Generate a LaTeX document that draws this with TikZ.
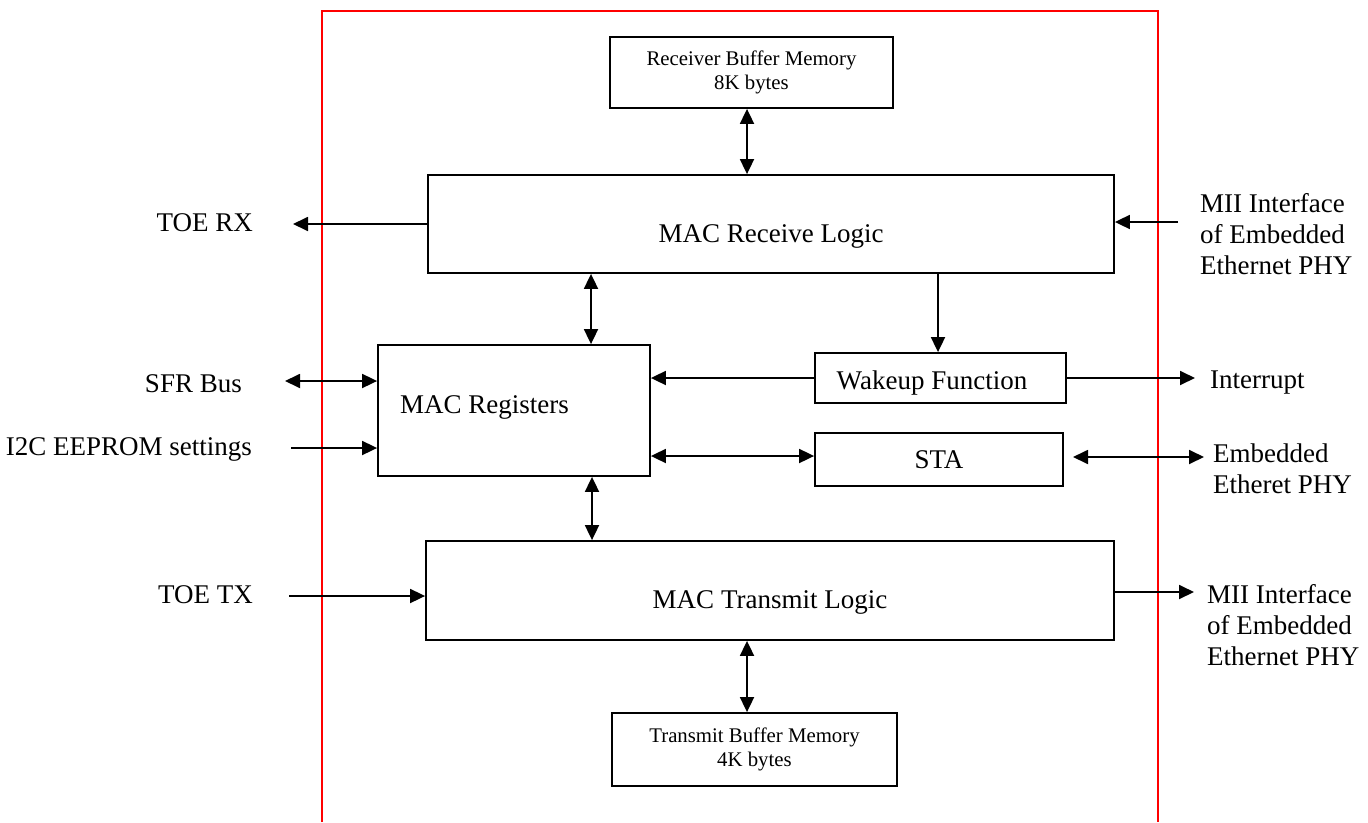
\documentclass[tikz,border=0pt]{standalone}
\usepackage{fontspec}
\setmainfont{Liberation Serif}
\usetikzlibrary{arrows.meta}
\begin{document}
\begin{tikzpicture}[x=1pt,y=-1pt,
  box/.style={draw, line width=1.8pt, inner sep=0pt, rectangle},
  big/.style={font=\fontsize{27}{31}\selectfont, inner sep=0pt},
  small/.style={font=\fontsize{20.8}{24.5}\selectfont, align=center},
  conn/.style={line width=1.8pt, -{Triangle[length=15pt,width=14pt]}},
  bconn/.style={line width=1.8pt, {Triangle[length=15pt,width=14pt]}-{Triangle[length=15pt,width=14pt]}},
]
\useasboundingbox (0,0) rectangle (1368,822);
\fill[white] (0,0) rectangle (1368,822);
\draw[red, line width=1.8pt] (322,822) -- (322,11) -- (1158,11) -- (1158,822);

% boxes
\node[box, small, minimum width=283pt, minimum height=71pt] (rbm) at (751.5,72.5) {Receiver Buffer Memory\\8K bytes};
\node[box, minimum width=686pt, minimum height=98pt] (mrl) at (771,224) {};
\node[big, anchor=base] (mrltxt) at (771,242) {MAC Receive Logic};
\node[box, minimum width=272pt, minimum height=131pt] (macreg) at (514,410.5) {};
\node[big, anchor=base west] (macregtxt) at (400,413) {MAC Registers};
\node[box, minimum width=251pt, minimum height=50pt] (wake) at (940.5,378) {};
\node[big, anchor=base] (waketxt) at (932,389) {Wakeup Function};
\node[box, minimum width=248pt, minimum height=53pt] (sta) at (939,459.5) {};
\node[big, anchor=base] (statxt) at (939,468) {STA};
\node[box, minimum width=688pt, minimum height=99pt] (mtl) at (770,590.5) {};
\node[big, anchor=base] (mtltxt) at (770,608) {MAC Transmit Logic};
\node[box, small, minimum width=285pt, minimum height=73pt] (tbm) at (754.5,749.5) {Transmit Buffer Memory\\4K bytes};

% outside labels
\node[big, anchor=base east] (toerx) at (253,231) {TOE RX};
\node[big, anchor=base east] (sfr) at (242,392) {SFR Bus};
\node[big, anchor=base east] (i2c) at (252,455) {I2C EEPROM settings};
\node[big, anchor=base east] (toetx) at (253,603) {TOE TX};
\node[big, anchor=north west, align=left] (miiin) at (1200,193.6) {MII Interface\\of Embedded\\Ethernet PHY};
\node[big, anchor=base west] (intr) at (1210,388) {Interrupt};
\node[big, anchor=north west, align=left] (phy) at (1213,443.6) {Embedded\\Etheret PHY};
\node[big, anchor=north west, align=left] (miiout) at (1207,584.6) {MII Interface\\of Embedded\\Ethernet PHY};

% connector ends
\coordinate (xa) at (747,0);
\coordinate (xb) at (591,0);
\coordinate (xc) at (938,0);
\coordinate (xd) at (592,0);
\coordinate (rxend) at (293,224);
\coordinate (miiinstart) at (1178,222);
\coordinate (intrend) at (1195,378);
\coordinate (ysta) at (0,456);
\coordinate (staleft) at (1073,457);
\coordinate (phyend) at (1204,457);
\coordinate (sfrend) at (285,381);
\coordinate (i2cstart) at (291,448);
\coordinate (txstart) at (289,596);
\coordinate (miioutend) at (1194,592);

% connectors
\draw[bconn] (rbm.south -| xa) -- (mrl.north -| xa);
\draw[conn] (mrl.west |- rxend) -- (rxend);
\draw[conn] (miiinstart) -- (mrl.east |- miiinstart);
\draw[bconn] (mrl.south -| xb) -- (macreg.north -| xb);
\draw[conn] (mrl.south -| xc) -- (wake.north -| xc);
\draw[conn] (wake.west) -- (macreg.east |- wake.west);
\draw[conn] (wake.east |- intrend) -- (intrend);
\draw[bconn] (macreg.east |- ysta) -- (sta.west |- ysta);
\draw[bconn] (staleft) -- (phyend);
\draw[bconn] (sfrend) -- (macreg.west |- sfrend);
\draw[conn] (i2cstart) -- (macreg.west |- i2cstart);
\draw[bconn] (macreg.south -| xd) -- (mtl.north -| xd);
\draw[conn] (txstart) -- (mtl.west |- txstart);
\draw[conn] (mtl.east |- miioutend) -- (miioutend);
\draw[bconn] (mtl.south -| xa) -- (tbm.north -| xa);
\end{tikzpicture}
\end{document}
